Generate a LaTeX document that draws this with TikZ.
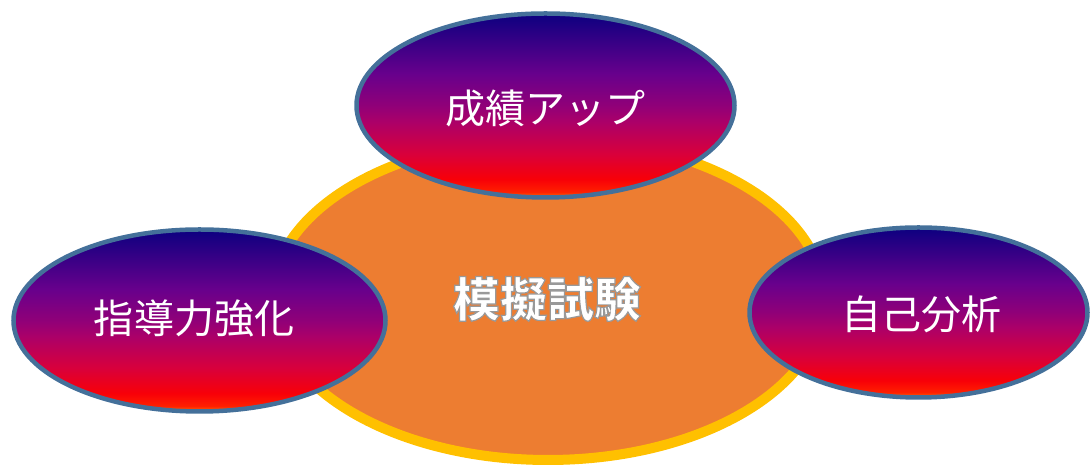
\documentclass[tikz,border=0pt]{standalone}
\usepackage{fontspec}
\newfontfamily\jpfont{Noto Sans CJK JP}
\definecolor{fA}{HTML}{FF7000}
\definecolor{fB}{HTML}{FF2000}
\definecolor{fC}{HTML}{F80008}
\definecolor{fD}{HTML}{D8003C}
\definecolor{fE}{HTML}{AC0068}
\definecolor{fF}{HTML}{900078}
\definecolor{fG}{HTML}{68008C}
\definecolor{fH}{HTML}{0C0080}
\definecolor{rimblue}{HTML}{44709A}
\definecolor{coreorange}{HTML}{ED7D31}
\definecolor{coregold}{HTML}{FFC000}
\pgfdeclareverticalshading{fire}{100bp}{color(0bp)=(fA); color(25bp)=(fA); color(26.5bp)=(fB); color(30bp)=(fC); color(37bp)=(fD); color(45.5bp)=(fE); color(50bp)=(fF); color(58.5bp)=(fG); color(75bp)=(fH); color(100bp)=(fH)}
\newcommand\outlinetext[1]{\special{pdf:literal direct 0.6 0.6 0.6 RG 1.2 w 2 Tr}#1\special{pdf:literal direct 0 Tr}}
\tikzset{
  petal/.style={draw=rimblue, line width=4.5bp, shading=fire},
  petaltext/.style={text=white, font=\jpfont\fontsize{40bp}{48bp}\selectfont, inner sep=0pt},
  coretext/.style={text=white, font=\jpfont\bfseries\fontsize{47bp}{56bp}\selectfont, inner sep=0pt}
}
\begin{document}
\begin{tikzpicture}[x=1bp,y=1bp]
\useasboundingbox (0,0) rectangle (1090,466);
% central ellipse
\draw[draw=coregold, fill=coreorange, line width=10bp] (548,167) ellipse [x radius=276, y radius=161];
% petals
\path[petal] (545.5,360.5) ellipse [x radius=189, y radius=92];
\path[petal] (199.5,145.5) ellipse [x radius=186, y radius=91];
\path[petal] (918.5,153.5) ellipse [x radius=169, y radius=85];
% texts
\node[coretext] (core) at (547,167) {\outlinetext{模擬試験}};
\node[petaltext] (top) at (545,358) {成績アップ};
\node[petaltext] (left) at (194,148) {指導力強化};
\node[petaltext] (right) at (921,152) {自己分析};
\end{tikzpicture}
\end{document}
